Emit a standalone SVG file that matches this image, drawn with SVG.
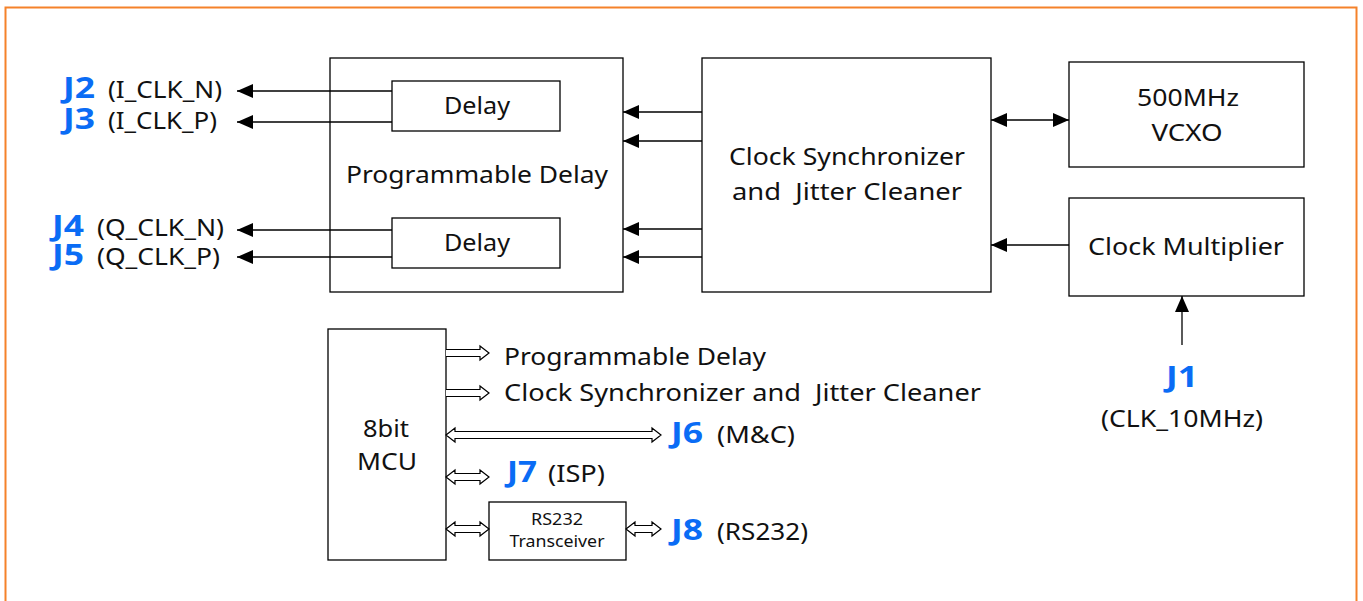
<svg xmlns="http://www.w3.org/2000/svg" width="1363" height="601" viewBox="0 0 1363 601">
<defs>
<style>
.box{fill:#fff;stroke:#000;stroke-width:1.3}
text{font-family:"Noto Sans","Open Sans","Liberation Sans",sans-serif}
.t{font-size:24px;fill:#111}
.s{font-size:17px;fill:#111}
.j{font-size:29px;font-weight:bold;fill:#0a6cf5}
.ln{stroke:#000;stroke-width:1.3;fill:none}
.ha{fill:#fff;stroke:#000;stroke-width:1.2}
</style>
<marker id="ah" viewBox="0 0 16 14" refX="16" refY="7" markerWidth="16" markerHeight="14" markerUnits="userSpaceOnUse" orient="auto-start-reverse">
<path d="M0,0 L16,7 L0,14 Z" fill="#000"/>
</marker>
</defs>
<rect x="5.5" y="7.5" width="1351" height="620" fill="none" stroke="#f5822a" stroke-width="2"/>

<g id="prog-delay">
<rect class="box" x="330" y="58" width="293" height="234"/>
<text class="t" x="477" y="183" text-anchor="middle" textLength="262" lengthAdjust="spacingAndGlyphs">Programmable Delay</text>
</g>
<g id="delay1">
<rect class="box" x="392" y="81" width="168" height="50"/>
<text class="t" x="477" y="114" text-anchor="middle" textLength="66" lengthAdjust="spacingAndGlyphs">Delay</text>
</g>
<g id="delay2">
<rect class="box" x="392" y="218" width="168" height="50"/>
<text class="t" x="477" y="251" text-anchor="middle" textLength="66" lengthAdjust="spacingAndGlyphs">Delay</text>
</g>
<g id="clock-sync">
<rect class="box" x="702" y="58" width="289" height="234"/>
<text class="t" x="847" y="165" text-anchor="middle" textLength="236" lengthAdjust="spacingAndGlyphs">Clock Synchronizer</text>
<text class="t" x="847" y="200" text-anchor="middle" textLength="230" lengthAdjust="spacingAndGlyphs" xml:space="preserve">and  Jitter Cleaner</text>
</g>
<g id="vcxo">
<rect class="box" x="1069" y="62" width="235" height="105"/>
<text class="t" x="1188" y="106" text-anchor="middle" textLength="102" lengthAdjust="spacingAndGlyphs">500MHz</text>
<text class="t" x="1187" y="141" text-anchor="middle" textLength="71" lengthAdjust="spacingAndGlyphs">VCXO</text>
</g>
<g id="clock-mult">
<rect class="box" x="1069" y="198" width="235" height="98"/>
<text class="t" x="1186" y="255" text-anchor="middle" textLength="196" lengthAdjust="spacingAndGlyphs">Clock Multiplier</text>
</g>
<g id="mcu">
<rect class="box" x="328" y="329" width="118" height="231"/>
<text class="t" x="386" y="437" text-anchor="middle" textLength="46" lengthAdjust="spacingAndGlyphs">8bit</text>
<text class="t" x="387" y="470" text-anchor="middle" textLength="60" lengthAdjust="spacingAndGlyphs">MCU</text>
</g>
<g id="rs232">
<rect class="box" x="489" y="502" width="137" height="58"/>
<text class="s" x="557" y="525" text-anchor="middle" textLength="52" lengthAdjust="spacingAndGlyphs">RS232</text>
<text class="s" x="557" y="547" text-anchor="middle" textLength="95" lengthAdjust="spacingAndGlyphs">Transceiver</text>
</g>

<g id="labels">
<text class="j" x="63" y="98" textLength="32" lengthAdjust="spacingAndGlyphs">J2</text>
<text class="t" x="108" y="98" textLength="114" lengthAdjust="spacingAndGlyphs">(I_CLK_N)</text>
<text class="j" x="63" y="129" textLength="32" lengthAdjust="spacingAndGlyphs">J3</text>
<text class="t" x="108" y="129" textLength="109" lengthAdjust="spacingAndGlyphs">(I_CLK_P)</text>
<text class="j" x="52" y="236" textLength="32" lengthAdjust="spacingAndGlyphs">J4</text>
<text class="t" x="97" y="236" textLength="127" lengthAdjust="spacingAndGlyphs">(Q_CLK_N)</text>
<text class="j" x="52" y="265" textLength="32" lengthAdjust="spacingAndGlyphs">J5</text>
<text class="t" x="97" y="265" textLength="123" lengthAdjust="spacingAndGlyphs">(Q_CLK_P)</text>
<text class="j" x="1166" y="387" textLength="32" lengthAdjust="spacingAndGlyphs">J1</text>
<text class="t" x="1101" y="427" textLength="162" lengthAdjust="spacingAndGlyphs">(CLK_10MHz)</text>
<text class="t" x="504" y="365" textLength="262" lengthAdjust="spacingAndGlyphs">Programmable Delay</text>
<text class="t" x="504" y="401" textLength="477" lengthAdjust="spacingAndGlyphs" xml:space="preserve">Clock Synchronizer and  Jitter Cleaner</text>
<text class="j" x="671" y="443" textLength="32" lengthAdjust="spacingAndGlyphs">J6</text>
<text class="t" x="717" y="443" textLength="78" lengthAdjust="spacingAndGlyphs">(M&amp;C)</text>
<text class="j" x="507" y="482" textLength="30" lengthAdjust="spacingAndGlyphs">J7</text>
<text class="t" x="548" y="482" textLength="57" lengthAdjust="spacingAndGlyphs">(ISP)</text>
<text class="j" x="671" y="540" textLength="32" lengthAdjust="spacingAndGlyphs">J8</text>
<text class="t" x="717" y="540" textLength="91" lengthAdjust="spacingAndGlyphs">(RS232)</text>
</g>

<g id="connectors">
<line class="ln" x1="392" y1="91" x2="237" y2="91" marker-end="url(#ah)"/>
<line class="ln" x1="392" y1="122" x2="237" y2="122" marker-end="url(#ah)"/>
<line class="ln" x1="392" y1="230" x2="237" y2="230" marker-end="url(#ah)"/>
<line class="ln" x1="392" y1="257" x2="237" y2="257" marker-end="url(#ah)"/>
<line class="ln" x1="702" y1="112" x2="623" y2="112" marker-end="url(#ah)"/>
<line class="ln" x1="702" y1="141" x2="623" y2="141" marker-end="url(#ah)"/>
<line class="ln" x1="702" y1="229" x2="623" y2="229" marker-end="url(#ah)"/>
<line class="ln" x1="702" y1="257" x2="623" y2="257" marker-end="url(#ah)"/>
<line class="ln" x1="991" y1="120" x2="1069" y2="120" marker-start="url(#ah)" marker-end="url(#ah)"/>
<line class="ln" x1="1069" y1="245" x2="991" y2="245" marker-end="url(#ah)"/>
<line class="ln" x1="1182" y1="345" x2="1182" y2="296" marker-end="url(#ah)"/>
<path class="ha" d="M446,349.5 H480 V346 L489,353 L480,360 V356.5 H446"/>
<path class="ha" d="M446,389.5 H480 V386 L489,393 L480,400 V396.5 H446"/>
<path class="ha" d="M446,435 L455,428 V431.5 H652 V428 L661,435 L652,442 V438.5 H455 V442 Z"/>
<path class="ha" d="M446,477 L455,470 V473.5 H480 V470 L489,477 L480,484 V480.5 H455 V484 Z"/>
<path class="ha" d="M446,529 L455,522 V525.5 H480 V522 L489,529 L480,536 V532.5 H455 V536 Z"/>
<path class="ha" d="M626,529 L635,522 V525.5 H652 V522 L661,529 L652,536 V532.5 H635 V536 Z"/>
</g>
</svg>
